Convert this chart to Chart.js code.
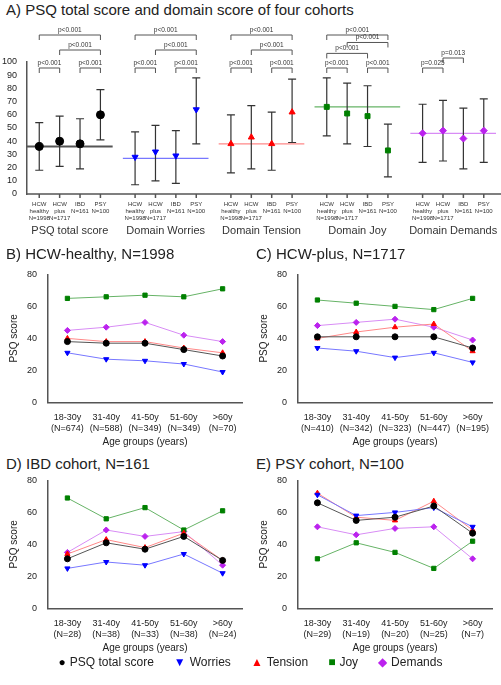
<!DOCTYPE html>
<html><head><meta charset="utf-8">
<script src="https://cdn.jsdelivr.net/npm/chart.js@4.4.1/dist/chart.umd.min.js"></script>
<style>
body{margin:0;background:#fff;font-family:Arial,"Liberation Sans",sans-serif;color:#222;}
.t{position:absolute;font-size:15px;white-space:nowrap}
canvas{position:absolute}
#leg{position:absolute;left:0;top:655px;width:501px;text-align:center;font-size:12px}
#leg span{margin:0 10px}
</style></head><body>
<canvas id="cA" style="left:0;top:20px;width:501px;height:226px" width="501" height="226"></canvas>
<div class="t" style="left:6px;top:1px">A) PSQ total score and domain score of four cohorts</div>
<div class="t" style="left:6px;top:245px">B) HCW-healthy, N=1998</div>
<div class="t" style="left:256px;top:245px">C) HCW-plus, N=1717</div>
<div class="t" style="left:6px;top:455px">D) IBD cohort, N=161</div>
<div class="t" style="left:256px;top:455px">E) PSY cohort, N=100</div>
<canvas id="cB" style="left:0;top:266px;width:250px;height:186px" width="250" height="186"></canvas>
<canvas id="cC" style="left:250px;top:266px;width:250px;height:186px" width="250" height="186"></canvas>
<canvas id="cD" style="left:0;top:472px;width:250px;height:186px" width="250" height="186"></canvas>
<canvas id="cE" style="left:250px;top:472px;width:250px;height:186px" width="250" height="186"></canvas>
<div id="leg"></div>
<script>
// panel A
const domains = ['PSQ total score','Domain Worries','Domain Tension','Domain Joy','Domain Demands'];
const cohorts = [['HCW','healthy','N=1998'],['HCW','plus','N=1717'],['IBD','N=161'],['PSY','N=100']];
const meanTotal = [36,40,38,60], loTotal = [18,21,19,41], hiTotal = [54,59,57,79];
const meanWorries = [28,32,29,64], loWorries = [7,10,8,38], hiWorries = [47,52,48,88];
const meanTension = [38,43,38,62], loTension = [16,19,18,39], hiTension = [60,67,62,87];
const meanJoy = [66,61,59,33], loJoy = [44,38,36,13], hiJoy = [88,84,82,53];
const meanDemands = [46,48,42,48], loDemands = [24,25,19,24], hiDemands = [68,71,65,72];
const refLines = [36,27,38,66,46];
// [domain, from, to, level, label]
const brackets = [
  [0,0,3,0,'p<0.001'],[0,1,3,1,'p<0.001'],[0,0,1,3,'p<0.001'],[0,2,3,3,'p<0.001'],
  [1,0,3,0,'p<0.001'],[1,1,3,1,'p<0.001'],[1,0,1,3,'p<0.001'],[1,2,3,3,'p<0.001'],
  [2,0,3,0,'p<0.001'],[2,1,3,1,'p<0.001'],[2,0,1,3,'p<0.001'],[2,2,3,3,'p<0.001'],
  [3,0,3,0,'p<0.001'],[3,1,3,0.65,'p<0.001'],[3,0,2,1.6,'p<0.001'],[3,0,1,3,'p<0.001'],[3,2,3,3,'p<0.001'],
  [4,1,2,2,'p=0.013'],[4,0,1,3,'p=0.025']
];
// age panels
const ageGroups = ['18-30y','31-40y','41-50y','51-60y','>60y'];
const nB = [674,588,349,349,70], nC = [410,342,323,447,195], nD = [28,38,33,38,24], nE = [29,19,20,25,7];
const totalB = [38,37,37,33,29], worriesB = [31,27,26,24,19], tensionB = [40,38,38,34,31], joyB = [65,66,67,66,71], demandsB = [45,47,50,42,38];
const totalC = [41,41,41,41,34], worriesC = [34,32,28,31,25], tensionC = [40,44,47,49,32], joyC = [64,62,60,58,65], demandsC = [48,50,52,47,39];
const totalD = [31,41,37,45,30], worriesD = [25,29,27,34,22], tensionD = [34,43,38,47,30], joyD = [69,56,63,49,61], demandsD = [35,49,45,48,27];
const totalE = [66,55,57,64,47], worriesE = [71,58,60,63,51], tensionE = [72,57,55,67,49], joyE = [31,41,35,25,42], demandsE = [51,46,50,51,31];

const series = [
  {name:'PSQ total score', color:'#000', line:'#555', style:'circle', rot:0},
  {name:'Worries', color:'#0000ff', line:'#7777ff', style:'triangle', rot:180},
  {name:'Tension', color:'#ff0000', line:'#ff8888', style:'triangle', rot:0},
  {name:'Joy', color:'#008000', line:'#66b366', style:'rect', rot:0},
  {name:'Demands', color:'#bb22ee', line:'#d88cf5', style:'rectRot', rot:0}
];
Chart.defaults.font.family = 'Arial, "Liberation Sans", sans-serif';
Chart.defaults.color = '#222';

const GAP = 4.7;
const means = [meanTotal,meanWorries,meanTension,meanJoy,meanDemands];
const los = [loTotal,loWorries,loTension,loJoy,loDemands];
const his = [hiTotal,hiWorries,hiTension,hiJoy,hiDemands];
const dsA = means.map((m,g)=>({
  data: m.map((v,i)=>({x:g*GAP+i,y:v})),
  backgroundColor: series[g].color, borderColor: series[g].color,
  pointStyle: series[g].style, rotation: series[g].rot, pointRadius: g==0?4:3.5, showLine:false
}));

const drawA = {
  id:'drawA',
  beforeDatasetsDraw(c){
    const x = c.scales.x, y = c.scales.y, ctx = c.ctx;
    ctx.save();
    refLines.forEach((r,g)=>{
      ctx.strokeStyle = series[g].line; ctx.lineWidth = g==0?2:1.3;
      ctx.beginPath(); ctx.moveTo(x.getPixelForValue(g*GAP-0.6),y.getPixelForValue(r));
      ctx.lineTo(x.getPixelForValue(g*GAP+3.6),y.getPixelForValue(r)); ctx.stroke();
    });
    ctx.strokeStyle = '#333'; ctx.lineWidth = 1.2;
    means.forEach((m,g)=>m.forEach((v,i)=>{
      const px = x.getPixelForValue(g*GAP+i), a = y.getPixelForValue(los[g][i]), b = y.getPixelForValue(his[g][i]);
      ctx.beginPath(); ctx.moveTo(px,a); ctx.lineTo(px,b);
      ctx.moveTo(px-4,a); ctx.lineTo(px+4,a); ctx.moveTo(px-4,b); ctx.lineTo(px+4,b); ctx.stroke();
    }));
    const base = y.getPixelForValue(0);
    ctx.strokeStyle = '#555'; ctx.lineWidth = 1.5;
    ctx.beginPath(); ctx.moveTo(x.left,base); ctx.lineTo(c.width,base); ctx.stroke();
    ctx.fillStyle = '#333'; ctx.textAlign = 'center';
    domains.forEach((d,g)=>{
      cohorts.forEach((lab,i)=>{
        const px = x.getPixelForValue(g*GAP+i);
        ctx.beginPath(); ctx.moveTo(px,base); ctx.lineTo(px,base+4); ctx.stroke();
        ctx.font = '6px Arial';
        lab.forEach((s,k)=>ctx.fillText(s,px,base+12+k*7));
      });
      ctx.font = '11px Arial';
      ctx.fillText(d,x.getPixelForValue(g*GAP+1.5),base+40);
    });
    brackets.forEach(([g,i,j,lvl,t])=>{
      const yy = lvl==0?15:lvl==1?30:lvl==3?48:15+lvl*11.5;
      const a = x.getPixelForValue(g*GAP+i), b = x.getPixelForValue(g*GAP+j);
      ctx.strokeStyle = '#555'; ctx.lineWidth = 1;
      ctx.beginPath(); ctx.moveTo(a,yy+5); ctx.lineTo(a,yy); ctx.lineTo(b,yy); ctx.lineTo(b,yy+5); ctx.stroke();
      ctx.font = '6.5px Arial'; ctx.fillText(t,(a+b)/2,yy-3);
    });
    ctx.restore();
  }
};
new Chart(document.getElementById('cA'),{
  type:'scatter', data:{datasets:dsA}, plugins:[drawA],
  options:{responsive:false, animation:false, layout:{padding:{top:42,bottom:52}},
    plugins:{legend:{display:false},tooltip:{enabled:false}},
    scales:{
      x:{type:'linear', min:-0.6, max:4*GAP+3.6, display:false},
      y:{min:0,max:100,grid:{display:false},border:{color:'#555',width:1.5},
         ticks:{stepSize:10,autoSkip:false,font:{size:9},padding:2}}
    }}
});

function ageChart(id, n, vals){
  new Chart(document.getElementById(id),{
    type:'line',
    data:{labels:ageGroups.map((a,i)=>[a,'(N='+n[i]+')']),
      datasets: vals.map((v,k)=>({label:series[k].name,data:v,borderColor:series[k].line,backgroundColor:series[k].color,
        pointBorderColor:series[k].color,pointStyle:series[k].style,rotation:series[k].rot,pointRadius:3,borderWidth:1,tension:0}))},
    options:{responsive:false, animation:false, layout:{padding:{right:8,left:4}},
      plugins:{legend:{display:false},tooltip:{enabled:false}},
      scales:{
        x:{offset:true,grid:{display:false},border:{color:'#555',width:1.5},
           ticks:{font:{size:9},padding:2,maxRotation:0,minRotation:0,autoSkip:false},
           title:{display:true,text:'Age groups (years)',font:{size:10},padding:{top:0}}},
        y:{min:0,max:80,grid:{display:false},border:{color:'#555',width:1.5},ticks:{stepSize:20,font:{size:9}},
           title:{display:true,text:'PSQ score',font:{size:10}}}
      }}
  });
}
ageChart('cB', nB, [totalB,worriesB,tensionB,joyB,demandsB]);
ageChart('cC', nC, [totalC,worriesC,tensionC,joyC,demandsC]);
ageChart('cD', nD, [totalD,worriesD,tensionD,joyD,demandsD]);
ageChart('cE', nE, [totalE,worriesE,tensionE,joyE,demandsE]);

const sym = {circle:'●',triangle:'▲',rect:'■',rectRot:'◆'};
document.getElementById('leg').innerHTML = series.map(s=>
  '<span><span style="color:'+s.color+';margin:0 4px 0 0">'+(s.rot?'▼':sym[s.style])+'</span>'+s.name+'</span>').join('');
</script>
</body></html>
